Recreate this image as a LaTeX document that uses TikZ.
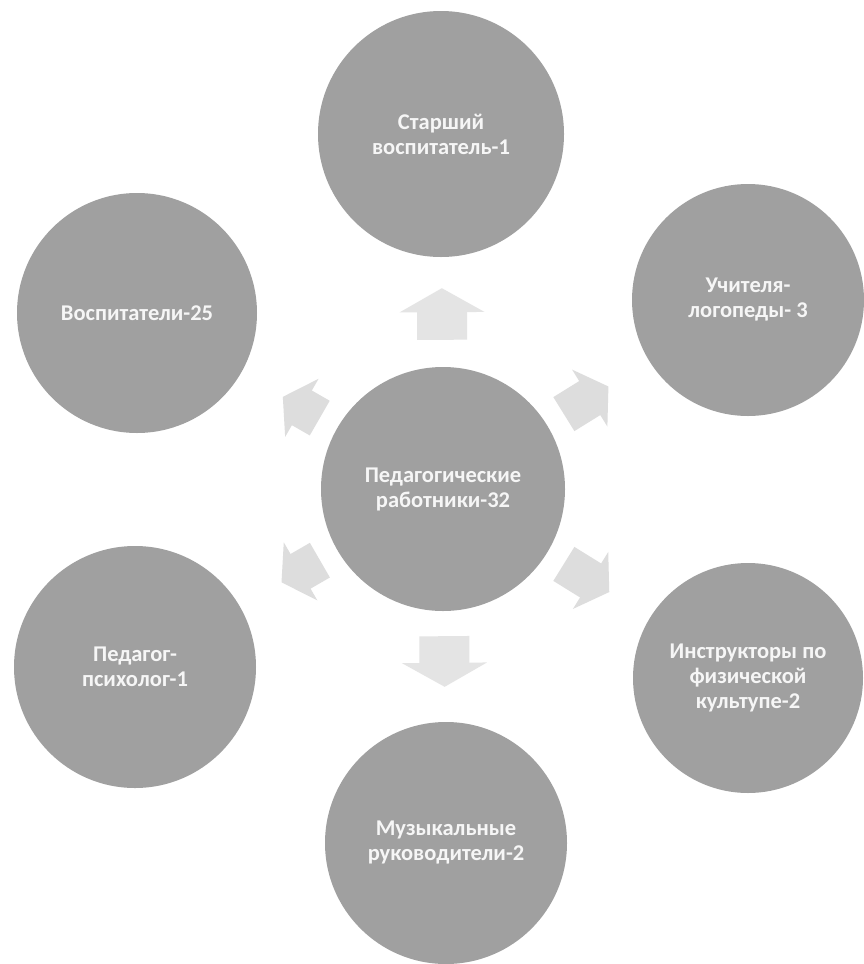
\documentclass[tikz,border=0pt]{standalone}
\usepackage{fontspec}
\setmainfont{Carlito}
\usetikzlibrary{arrows.meta}
\definecolor{circfill}{HTML}{A0A0A0}
\definecolor{arrfill}{HTML}{E4E4E4}
\definecolor{arrfilld}{HTML}{DDDDDD}
\definecolor{txtcol}{HTML}{F6F6F6}
\begin{document}
\begin{tikzpicture}[x=1pt,y=-1pt,
  circ/.style={circle,fill=circfill,draw=none,inner sep=0pt,text=txtcol,
    font=\fontsize{22.5}{25}\selectfont\bfseries,align=center},
  conn/.style={draw=arrfill,line width=50pt,
    -{Triangle[length=24pt,width=84pt,fill=arrfill]}},
  conndiag/.style={draw=arrfilld,line width=40pt,
    -{Triangle[length=22pt,width=66pt,fill=arrfilld]}}]
\useasboundingbox[fill=white] (0,0) rectangle (864,964);
\node[circ,minimum size=244pt] (c)  at (443,489) {Педагогические\\работники-32};
\node[circ,minimum size=246pt] (t)  at (441,134) {Старший\\воспитатель-1};
\node[circ,minimum size=232pt] (tr) at (748,300) {Учителя-\\логопеды- 3};
\node[circ,minimum size=230pt] (br) at (748,678) {Инструкторы по\\физической\\культупе-2};
\node[circ,minimum size=242pt] (b)  at (446,843) {Музыкальные\\руководители-2};
\node[circ,minimum size=242pt] (bl) at (135,667) {Педагог-\\психолог-1};
\node[circ,minimum size=240pt] (tl) at (137,313) {Воспитатели-25};
\draw[conn,shorten <=27pt,shorten >=31pt] (c) -- (t);
\draw[conn,shorten <=25pt,shorten >=35pt] (c) -- (b);
\draw[conndiag,shorten <=20pt,shorten >=48pt] (c) -- (tr);
\draw[conndiag,shorten <=20pt,shorten >=48pt] (c) -- (br);
\draw[conndiag,shorten <=20pt,shorten >=48pt] (c) -- (bl);
\draw[conndiag,shorten <=20pt,shorten >=48pt] (c) -- (tl);
\end{tikzpicture}
\end{document}
